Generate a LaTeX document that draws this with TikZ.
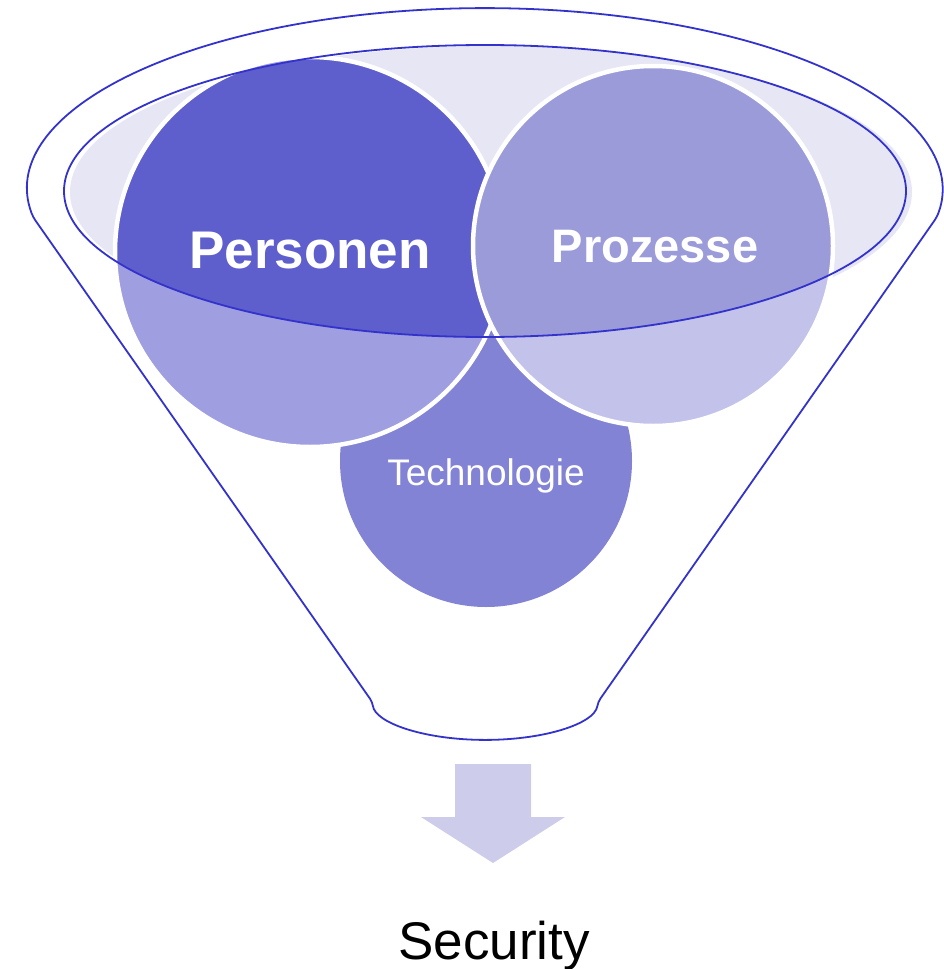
\documentclass[tikz,border=0pt]{standalone}
\usepackage{fontspec}
\setmainfont{Liberation Sans}
\definecolor{funnelblue}{HTML}{3333CC}
\definecolor{bowlfill}{HTML}{E6E6F5}
\definecolor{persdark}{HTML}{5E5ECD}
\definecolor{perslight}{HTML}{9E9EE0}
\definecolor{prozdark}{HTML}{9B9BDA}
\definecolor{prozlight}{HTML}{C2C2EA}
\definecolor{techfill}{HTML}{8383D5}
\definecolor{arrowfill}{HTML}{CDCDEB}

\begin{document}
\begin{tikzpicture} [x=1pt,y=1pt,
 rim/.style={draw=funnelblue, line width=1.8pt},
 ring/.style={draw=white, line width=4.5pt},
 ballabel/.style={text=white, anchor=base, inner sep=0pt}]
\useasboundingbox (0,0) rectangle (943,-969);
\coordinate (bowl) at (485,-191);
\coordinate (pers) at (310,-252);
\coordinate (proz) at (653,-246);
\coordinate (tech) at (486,-461);
% funnel outline
\draw[rim, rounded corners=4pt] (33,-217) arc[start angle=188.5, end angle=-8.5, x radius=457pt, y radius=182pt]
 -- (598,-702) arc[start angle=-3, end angle=-177, x radius=113pt, y radius=40pt] -- cycle;
\fill[bowlfill] (491,-192) ellipse[x radius=421pt, y radius=146pt];
% the three balls
\fill[techfill] (tech) circle[radius=146pt];
\foreach \c/\r/\lt/\dk in {pers/195/perslight/persdark, proz/180/prozlight/prozdark} {
 \fill[\lt] (\c) circle[radius=\r pt];
 \begin{scope}
  \clip (bowl) ellipse[x radius=421pt, y radius=146pt];
  \fill[\dk] (\c) circle[radius=\r pt];
 \end{scope}
 \draw[ring] (\c) circle[radius=\r pt];
}
\draw[rim] (bowl) ellipse[x radius=421pt, y radius=146pt];
\node[ballabel, font=\bfseries\fontsize{53}{60}\selectfont] (personen) at (310,-268) {Personen};
\node[ballabel, font=\bfseries\fontsize{47}{54}\selectfont] (prozesse) at (655,-262) {Prozesse};
\node[ballabel, font=\fontsize{37}{44}\selectfont] (technologie) at (486,-485) {Technologie};
% output arrow
\fill[arrowfill] (455,-764) -- (531,-764) -- (531,-817) -- (565,-817) -- (493,-863) -- (421,-817) -- (455,-817) -- cycle;
\node[anchor=base, inner sep=0pt, font=\fontsize{53}{60}\selectfont] (security) at (494,-959) {Security};
\end{tikzpicture}
\end{document}
